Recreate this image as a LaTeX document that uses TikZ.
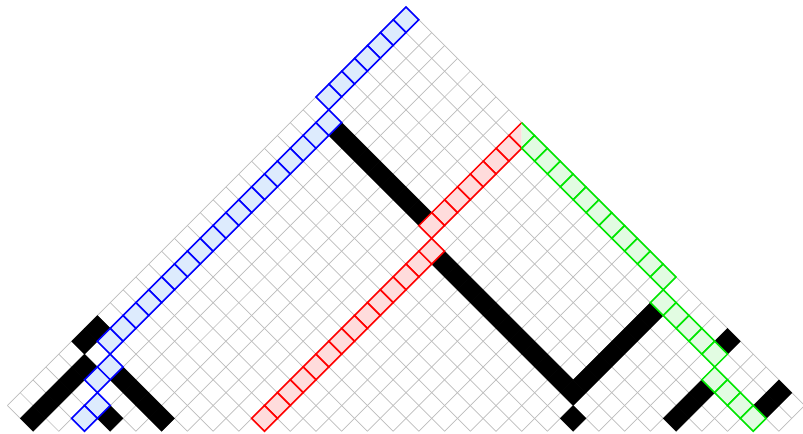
\documentclass[tikz,border=0pt]{standalone}
\usetikzlibrary{calc}
\definecolor{gt}{RGB}{188,188,188}
\definecolor{blau}{RGB}{0,0,255}
\definecolor{blauhell}{RGB}{221,235,253}
\definecolor{rot}{RGB}{255,0,0}
\definecolor{rothell}{RGB}{255,220,220}
\definecolor{gruen}{RGB}{0,230,0}
\definecolor{gruenhell}{RGB}{226,252,226}
\tikzset{
  every picture/.style={line join=miter},
  % Gitter
  gitter/.style={gt, line width=0.6pt},
  % Zellen
  voll/.style={fill=black, draw=black, line width=0.3pt},
  pfad/.style={draw=#1, fill=#1hell, line width=1.35pt},
  rand/.style={#1, line width=1.35pt},
}

\begin{document}
\begin{tikzpicture}
  \useasboundingbox (0,0) rectangle (24.09,13.02);
  \clip (0,0) rectangle (24.09,13.02);
  % Zelle (i,j): Quadrat mit oberer Ecke (i,j)
  \def\zelle#1#2#3{\path[#1] (#2,#3) -- ++(1,0) -- ++(0,1) -- ++(-1,0) -- cycle;}
  \begin{scope}[shift={(12.18,12.813)}, x={(-0.3858cm,-0.3858cm)}, y={(0.3858cm,-0.3858cm)}]
    % Gitter
    \foreach \k in {0,...,31} {
      \pgfmathtruncatemacro{\e}{min(31,33-\k)}
      \draw[gitter] (\k,0) -- (\k,\e);
      \draw[gitter] (0,\k) -- (\e,\k);
    }
    % schwarze Zellen
    \foreach \j in {2,...,8} {\zelle{voll}{7}{\j}}
    \foreach \j in {11,...,21} {\zelle{voll}{8}{\j}}
    \foreach \i in {2,...,7} {\zelle{voll}{\i}{21}}
    \foreach \i in {26,...,30} {\zelle{voll}{\i}{1}}
    \foreach \j in {3,...,6} {\zelle{voll}{25}{\j}}
    \foreach \i in {3,4,5} {\zelle{voll}{\i}{26}}
    \foreach \i/\j in {9/22,24/0,25/0,27/4,0/25,0/29,1/29} {\zelle{voll}{\i}{\j}}
    % blauer Pfad
    \foreach \i in {0,...,6} {\zelle{pfad=blau}{\i}{0}}
    \foreach \i in {7,...,24} {\zelle{pfad=blau}{\i}{1}}
    \foreach \i/\j in {25/2,26/2,27/3,28/3} {\zelle{pfad=blau}{\i}{\j}}
    % roter Pfad
    \fill[rothell] (0,9) -- (1,9) -- (1,10) -- cycle;
    \draw[rand=rot] (0,9) -- (1,9) -- (1,10);
    \foreach \i in {1,...,7} {\zelle{pfad=rot}{\i}{9}}
    \foreach \i in {8,...,21} {\zelle{pfad=rot}{\i}{10}}
    % gruener Pfad
    \fill[gruenhell] (0,9) -- (0,10) -- (1,10) -- cycle;
    \draw[rand=gruen] (0,9) -- (0,10) -- (1,10);
    \foreach \j in {10,...,20} {\zelle{pfad=gruen}{0}{\j}}
    \foreach \j in {21,...,25} {\zelle{pfad=gruen}{1}{\j}}
    \foreach \j in {26,...,29} {\zelle{pfad=gruen}{2}{\j}}
  \end{scope}
\end{tikzpicture}
\end{document}
